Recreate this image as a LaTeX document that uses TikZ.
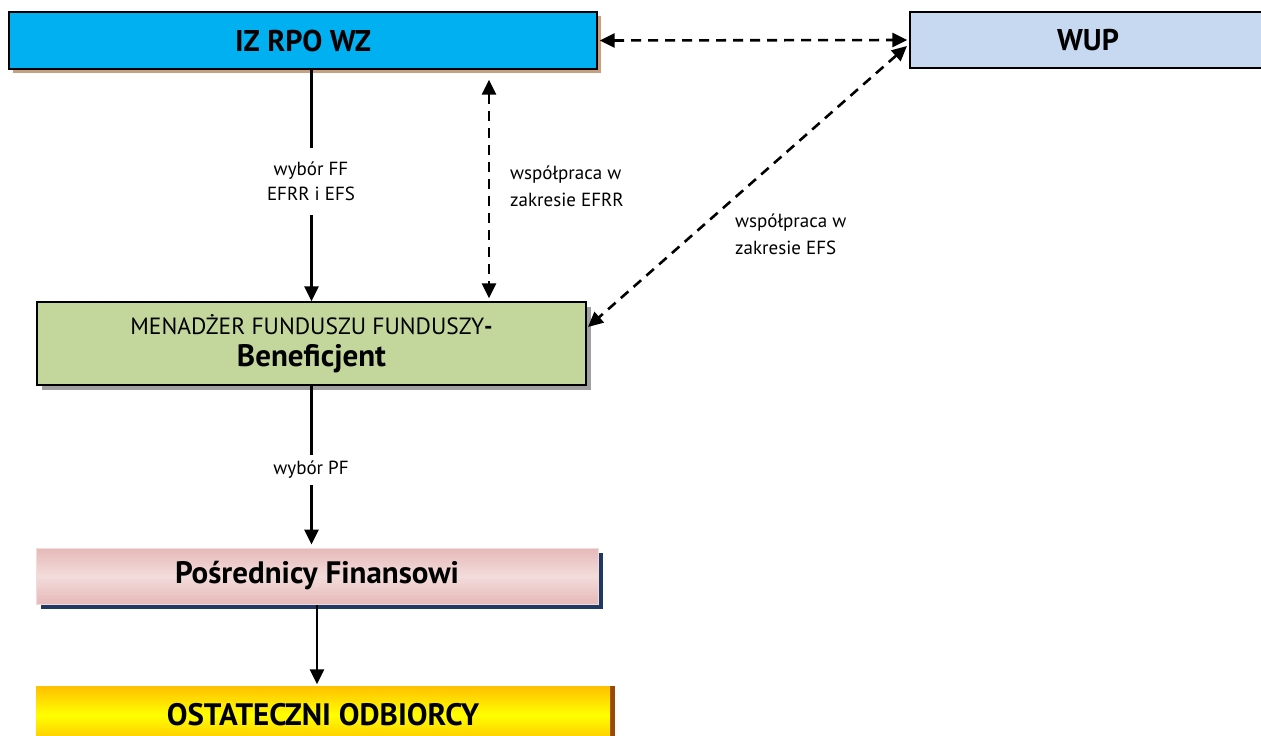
\documentclass[tikz,border=0pt]{standalone}
\usepackage{fontspec}
\setmainfont{PT Sans}
\usetikzlibrary{arrows.meta,shadows}
\definecolor{izblue}{HTML}{00B0F0}
\definecolor{izshadow}{HTML}{C8A080}
\definecolor{wupblue}{HTML}{C6D9F1}
\definecolor{mengreen}{HTML}{C3D69B}
\definecolor{mengray}{HTML}{A0A0A0}
\definecolor{pinkA}{HTML}{E6B9B8}
\definecolor{pinkB}{HTML}{F2DCDB}
\definecolor{navy}{HTML}{1F3864}
\definecolor{orangeA}{HTML}{FFC000}
\definecolor{yellowB}{HTML}{FFFF00}
\definecolor{brownS}{HTML}{984807}
\tikzset{
  box/.style={draw=black, line width=1.3pt, inner sep=0pt, align=center},
  solidarr/.style={line width=2.8pt, -{Triangle[length=15pt,width=14pt]}},
  dasharr/.style={line width=2.6pt, dash pattern=on 10pt off 7pt, {Triangle[length=15pt,width=14pt]}-{Triangle[length=15pt,width=14pt]}},
  lbl/.style={font=\fontsize{19}{25}\selectfont, align=center, inner sep=3pt},
  lbll/.style={font=\fontsize{19}{27}\selectfont, align=left, anchor=west, inner sep=0pt}
}
\begin{document}
\begin{tikzpicture}[x=1pt,y=-1pt]
\useasboundingbox (0,0) rectangle (1261,736);
\clip (0,0) rectangle (1261,736);

\node[box, fill=izblue, minimum width=588pt, minimum height=57pt,
  drop shadow={shadow xshift=4pt, shadow yshift=-4pt, fill=izshadow, opacity=1}]
  (iz) at (303,40.5) {\bfseries\fontsize{30}{36}\selectfont IZ RPO WZ};

\node[box, fill=wupblue, minimum width=356pt, minimum height=56pt]
  (wup) at (1088,40) {\bfseries\fontsize{30}{36}\selectfont WUP};

\node[box, fill=mengreen, minimum width=549pt, minimum height=83pt,
  drop shadow={shadow xshift=5pt, shadow yshift=-5pt, fill=mengray, opacity=1}]
  (men) at (311.5,343.5) {\fontsize{23.5}{28}\selectfont MENADŻER FUNDUSZU FUNDUSZY\textbf{-}\\[9pt]
  \fontsize{31}{34}\selectfont\bfseries Beneficjent};

\node[box, draw=pinkB, line width=1pt, top color=pinkA, bottom color=pinkA, middle color=pinkB,
  minimum width=562pt, minimum height=56pt,
  drop shadow={shadow xshift=5pt, shadow yshift=-5pt, fill=navy, opacity=1}]
  (pos) at (317,576) {\bfseries\fontsize{31}{36}\selectfont Pośrednicy Finansowi};

\node[box, draw=none, top color=orangeA, bottom color=orangeA, middle color=yellowB,
  minimum width=574pt, minimum height=58pt,
  drop shadow={shadow xshift=5pt, shadow yshift=0pt, fill=brownS, opacity=1}]
  (ost) at (323,715) {\bfseries\fontsize{31}{36}\selectfont OSTATECZNI ODBIORCY};

% connectors
\draw[solidarr] (iz.south -| men.north) -- (men.north);
\node[lbl, fill=white, minimum height=67pt] (l1) at (311,181.5) {wybór FF\\EFRR i EFS};

\coordinate (efrr) at (489,0);
\draw[dasharr, shorten <=10pt, shorten >=3pt] (iz.south -| efrr) -- (men.north -| efrr);
\node[lbll] (l2) at (510,186) {współpraca w\\zakresie EFRR};

\draw[dasharr, shorten <=2pt, shorten >=2pt] (iz.east) -- (wup.west);

\coordinate (d1) at (907,46);
\coordinate (d2) at (588,327);
\draw[dasharr] (d1) -- (d2);
\node[lbll] (l3) at (735,234) {współpraca w\\zakresie EFS};

\draw[solidarr, shorten >=3pt] (men.south) -- (men.south |- pos.north);
\node[lbl, fill=white, minimum height=30pt] (l4) at (311,470) {wybór PF};

\draw[solidarr, shorten >=1pt] (pos.south) -- (pos.south |- ost.north);
\end{tikzpicture}
\end{document}
